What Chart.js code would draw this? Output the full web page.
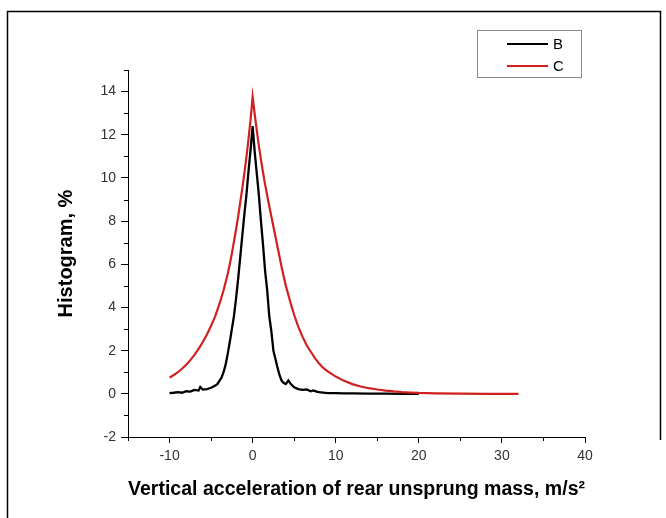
<!DOCTYPE html>
<html>
<head>
<meta charset="utf-8">
<script src="https://cdn.jsdelivr.net/npm/chart.js@4.4.1/dist/chart.umd.min.js"></script>
<style>
  html, body { margin: 0; padding: 0; background: #fff; }
  #wrap { width: 666px; height: 518px; position: relative; }
</style>
</head>
<body>
<div id="wrap"><canvas id="c" width="666" height="518"></canvas></div>
<script>
// ---- Data ----
const seriesNames = ['B', 'C'];

const bX = [-10, -9.5, -9, -8.5, -8, -7.5, -7, -6.5, -6.3, -6, -5.5, -5, -4.5, -4.25, -4, -3.75, -3.5, -3.25, -3, -2.75, -2.5, -2.25, -2, -1.75, -1.5, -1.25, -1, -0.75, -0.5, -0.25, 0,
            0.25, 0.5, 0.75, 1, 1.25, 1.5, 1.75, 2, 2.25, 2.5, 2.75, 3, 3.25, 3.5, 3.75, 4, 4.3, 4.6, 5, 5.5, 6, 6.5, 7, 7.3, 7.7, 8, 9, 10, 11, 12, 14, 16, 18, 20];
const bY = [0.03, 0.05, 0.08, 0.05, 0.12, 0.1, 0.18, 0.15, 0.32, 0.2, 0.22, 0.28, 0.38, 0.45, 0.6, 0.75, 1.0, 1.35, 1.85, 2.4, 3.0, 3.6, 4.4, 5.3, 6.3, 7.3, 8.3, 9.2, 10.3, 11.3, 12.4,
            11.2, 10.2, 9.2, 8.0, 6.9, 5.7, 4.8, 3.6, 2.9, 2.0, 1.6, 1.2, 0.85, 0.6, 0.5, 0.45, 0.62, 0.45, 0.3, 0.22, 0.18, 0.2, 0.12, 0.16, 0.1, 0.08, 0.03, 0.03, 0.02, 0.02, 0.01, 0.01, 0.0, 0.0];

const cX = [-10, -9.5, -9, -8.5, -8, -7.5, -7, -6.5, -6, -5.5, -5, -4.5, -4, -3.5, -3, -2.75, -2.5, -2.25, -2, -1.75, -1.5, -1.25, -1, -0.75, -0.5, -0.25, 0,
            0.25, 0.5, 0.75, 1, 1.25, 1.5, 1.75, 2, 2.5, 3, 3.5, 4, 4.5, 5, 5.5, 6, 6.5, 7, 7.5, 8, 8.5, 9, 10, 11, 12, 13, 14, 15, 16, 17, 18, 19, 20, 22, 25, 28, 32];
const cY = [0.75, 0.87, 1.0, 1.16, 1.35, 1.56, 1.8, 2.08, 2.4, 2.75, 3.15, 3.6, 4.15, 4.8, 5.55, 6.0, 6.5, 7.05, 7.6, 8.2, 8.85, 9.5, 10.2, 10.95, 11.8, 12.7, 13.75,
            12.95, 12.2, 11.5, 10.85, 10.25, 9.7, 9.2, 8.7, 7.75, 6.8, 5.85, 5.0, 4.3, 3.65, 3.1, 2.65, 2.25, 1.95, 1.65, 1.4, 1.2, 1.05, 0.8, 0.6, 0.45, 0.34, 0.26, 0.2, 0.15, 0.11, 0.08, 0.06, 0.04, 0.02, 0.01, 0.0, 0.0];

const xTicks = [-10, 0, 10, 20, 30, 40];
const xMinorTicks = [-15, -5, 5, 15, 25, 35];
const yTicks = [-2, 0, 2, 4, 6, 8, 10, 12, 14];
const yMinorTicks = [-1, 1, 3, 5, 7, 9, 11, 13, 15];

const xTitle = 'Vertical acceleration of rear unsprung mass, m/s²';
const yTitle = 'Histogram, %';

// ---- Plugins ----
const framePlugin = {
  id: 'frame',
  beforeDraw(chart) {
    const ctx = chart.ctx;
    ctx.save();
    ctx.fillStyle = '#fff';
    ctx.fillRect(0, 0, chart.width, chart.height);
    ctx.strokeStyle = '#000';
    ctx.lineWidth = 1.5;
    ctx.beginPath();
    ctx.moveTo(7.5, 518);
    ctx.lineTo(7.5, 11.5);
    ctx.lineTo(660.5, 11.5);
    ctx.lineTo(660.5, 440);
    ctx.stroke();
    ctx.restore();
  }
};

const minorTickPlugin = {
  id: 'minorTicks',
  afterDraw(chart) {
    const ctx = chart.ctx;
    const xs = chart.scales.x, ys = chart.scales.y;
    ctx.save();
    ctx.strokeStyle = '#000';
    ctx.lineWidth = 1;
    ctx.beginPath();
    xMinorTicks.forEach(v => {
      const px = Math.round(xs.getPixelForValue(v)) + 0.5;
      ctx.moveTo(px, xs.top);
      ctx.lineTo(px, xs.top + 4);
    });
    yMinorTicks.forEach(v => {
      const py = Math.round(ys.getPixelForValue(v)) + 0.5;
      ctx.moveTo(ys.right, py);
      ctx.lineTo(ys.right - 4, py);
    });
    ctx.stroke();
    ctx.restore();
  }
};

const legendBoxPlugin = {
  id: 'legendBox',
  afterDraw(chart) {
    const ctx = chart.ctx;
    ctx.save();
    ctx.strokeStyle = '#888';
    ctx.lineWidth = 1;
    ctx.strokeRect(477.5, 30.5, 104, 47);
    chart.data.datasets.forEach((ds, i) => {
      const y = 44 + i * 22;
      ctx.strokeStyle = ds.borderColor;
      ctx.lineWidth = 2;
      ctx.beginPath();
      ctx.moveTo(507, y);
      ctx.lineTo(548, y);
      ctx.stroke();
      ctx.fillStyle = '#000';
      ctx.font = '15px Arial, "Liberation Sans", sans-serif';
      ctx.textBaseline = 'middle';
      ctx.fillText(ds.label, 553, y + 1);
    });
    ctx.restore();
  }
};

// ---- Chart ----
const ctx = document.getElementById('c').getContext('2d');
new Chart(ctx, {
  type: 'scatter',
  data: {
    datasets: [
      {
        label: seriesNames[0],
        data: bX.map((x, i) => ({ x: x, y: bY[i] })),
        borderColor: '#000000',
        backgroundColor: '#000000',
        borderWidth: 2.3,
        showLine: true,
        pointRadius: 0,
        tension: 0,
        order: 2
      },
      {
        label: seriesNames[1],
        data: cX.map((x, i) => ({ x: x, y: cY[i] })),
        borderColor: '#d0201f',
        backgroundColor: '#d0201f',
        borderWidth: 2.2,
        showLine: true,
        pointRadius: 0,
        tension: 0,
        order: 1
      }
    ]
  },
  options: {
    responsive: false,
    animation: false,
    devicePixelRatio: 1,
    layout: { padding: { top: 70, right: 81, left: 0, bottom: 0 } },
    plugins: {
      legend: { display: false },
      tooltip: { enabled: false }
    },
    scales: {
      x: {
        type: 'linear',
        min: -15,
        max: 40,
        afterBuildTicks: (scale) => { scale.ticks = xTicks.map(v => ({ value: v })); },
        afterFit: (scale) => { scale.height = 81; },
        grid: { drawOnChartArea: false, tickLength: 6, color: '#000', tickColor: '#000', lineWidth: 1 },
        border: { display: true, color: '#000', width: 1 },
        ticks: { color: '#333', padding: 5, maxRotation: 0, font: { family: 'Arial, "Liberation Sans", sans-serif', size: 14 } },
        title: {
          display: true,
          text: xTitle,
          color: '#000',
          padding: { top: 0, bottom: 17 },
          font: { family: 'Arial, "Liberation Sans", sans-serif', size: 20, weight: 'bold' }
        }
      },
      y: {
        type: 'linear',
        min: -2,
        max: 15,
        afterBuildTicks: (scale) => { scale.ticks = yTicks.map(v => ({ value: v })); },
        afterFit: (scale) => { scale.width = 128; },
        grid: { drawOnChartArea: false, tickLength: 7, color: '#000', tickColor: '#000', lineWidth: 1 },
        border: { display: true, color: '#000', width: 1 },
        ticks: { color: '#333', padding: 5, font: { family: 'Arial, "Liberation Sans", sans-serif', size: 14 } },
        title: {
          display: true,
          text: yTitle,
          color: '#000',
          padding: { top: 54, bottom: 0 },
          font: { family: 'Arial, "Liberation Sans", sans-serif', size: 20, weight: 'bold' }
        }
      }
    }
  },
  plugins: [framePlugin, minorTickPlugin, legendBoxPlugin]
});
</script>
</body>
</html>
